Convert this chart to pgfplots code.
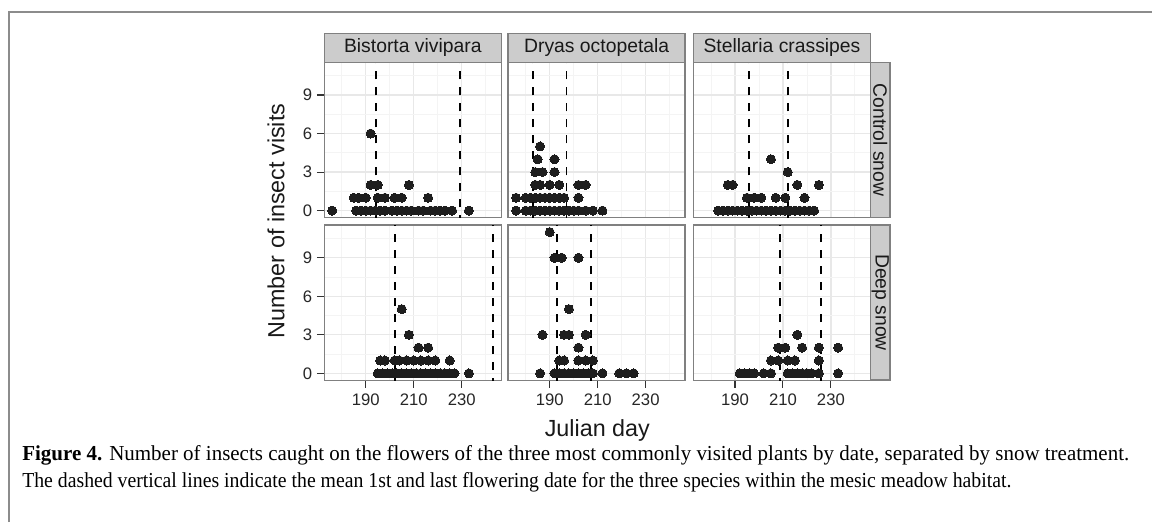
\documentclass[border=0pt]{standalone}
\usepackage{pgfplots}
\pgfplotsset{compat=1.18}
\usepackage{fontspec}
\usepackage{graphicx}
\setmainfont{Liberation Sans}
\newfontfamily\capfont{Liberation Serif}
\definecolor{gridmaj}{HTML}{E8E8E8}
\definecolor{gridmin}{HTML}{F4F4F4}
\definecolor{panelborder}{HTML}{808080}
\definecolor{stripfill}{HTML}{CCCCCC}
\definecolor{framegray}{HTML}{8C8C8C}
\definecolor{ptcol}{HTML}{1E1E1E}
\pgfplotsset{
 panel/.style={
   scale only axis, width=132.75pt, height=116.55pt,
   anchor=north west,
   xmin=172.7, xmax=246.5, ymin=-0.55, ymax=11.55,
   xtick={190,210,230}, minor xtick={180,200,220,240},
   ytick={0,3,6,9}, minor ytick={1.5,4.5,7.5,10.5},
   grid=both,
   major grid style={draw=gridmaj, line width=0.9pt},
   minor grid style={draw=gridmin, line width=0.6pt},
   axis line style={draw=panelborder, line width=1.1pt},
   tick align=outside, tick pos=left,
   major tick length=5.5pt, minor tick length=0pt,
   tick style={draw=black!80, line width=0.8pt},
   ticklabel style={font=\fontsize{12.5}{13.5}\selectfont, text=black!85},
   xticklabel style={yshift=-1pt},
   /pgf/number format/assume math mode=true,
   clip=true,
 },
 noxt/.style={xticklabels={}, x tick style={draw=none}},
 noyt/.style={yticklabels={}, y tick style={draw=none}},
 pts/.style={only marks, mark=*, mark size=3.4pt, mark options={fill=ptcol, draw=ptcol, line width=0pt}},
 dl/.style={black, line width=1.3pt, dash pattern=on 6.5pt off 5.5pt, forget plot},
}
\begin{document}
\begin{tikzpicture}
\useasboundingbox (0,0) rectangle (864pt,-391.5pt);
\draw[framegray, line width=2pt] (6.75pt,-391.5pt) -- (6.75pt,-9pt) -- (864pt,-9pt);

% Bistorta control
\begin{axis}[panel, noxt, at={(243.2pt,-46.7pt)}]
\addplot[dl] coordinates {(194.2,-1) (194.2,12)};
\addplot[dl] coordinates {(229.2,-1) (229.2,12)};
\addplot[pts] coordinates {
(176,0)(186,0)(188,0)(190,0)(192,0)(194,0)(196,0)(198,0)(201,0)(203,0)(205,0)(207,0)(209,0)(212,0)(214,0)(217,0)(219,0)(221,0)(223,0)(226,0)(233,0)
(185,1)(187,1)(190,1)(195,1)(198,1)(202,1)(205,1)(216,1)
(192,2)(195,2)(208,2)
(192,6)};
\end{axis}
% Dryas control
\begin{axis}[panel, noxt, noyt, at={(381.15pt,-46.7pt)}]
\addplot[dl] coordinates {(183,-1) (183,12)};
\addplot[dl] coordinates {(197,-1) (197,12)};
\addplot[pts] coordinates {
(176,0)(180,0)(182,0)(184,0)(186,0)(188,0)(190,0)(192,0)(194,0)(196,0)(198,0)(200,0)(202,0)(205,0)(208,0)(212,0)
(176,1)(180,1)(182,1)(184,1)(186,1)(188,1)(190,1)(192,1)(194,1)(196,1)(202,1)
(184,2)(186,2)(190,2)(194,2)(202,2)(205,2)
(184,3)(187,3)(192,3)
(185,4)(192,4)
(186,5)};
\end{axis}
% Stellaria control
\begin{axis}[panel, noxt, noyt, at={(520.1pt,-46.7pt)}]
\addplot[dl] coordinates {(195.9,-1) (195.9,12)};
\addplot[dl] coordinates {(212,-1) (212,12)};
\addplot[pts] coordinates {
(183,0)(185,0)(187,0)(189,0)(191,0)(193,0)(195,0)(197,0)(199,0)(201,0)(203,0)(205,0)(207,0)(209,0)(211,0)(213,0)(215,0)(217,0)(219,0)(221,0)(223,0)
(195,1)(198,1)(201,1)(207,1)(211,1)(219,1)
(187,2)(189,2)(216,2)(225,2)
(212,3)
(205,4)};
\end{axis}
% Bistorta deep
\begin{axis}[panel, at={(243.2pt,-168.75pt)}]
\addplot[dl] coordinates {(202.3,-1) (202.3,12)};
\addplot[dl] coordinates {(243.1,-1) (243.1,12)};
\addplot[pts] coordinates {
(195,0)(197,0)(199,0)(201,0)(203,0)(205,0)(207,0)(209,0)(211,0)(213,0)(215,0)(217,0)(219,0)(221,0)(223,0)(225,0)(227,0)(233,0)
(196,1)(198,1)(202,1)(204,1)(207,1)(210,1)(213,1)(216,1)(219,1)(225,1)
(212,2)(216,2)
(208,3)
(205,5)};
\end{axis}
% Dryas deep
\begin{axis}[panel, noyt, at={(381.15pt,-168.75pt)}]
\addplot[dl] coordinates {(192.9,-1) (192.9,12)};
\addplot[dl] coordinates {(207.1,-1) (207.1,12)};
\addplot[pts] coordinates {
(186,0)(192,0)(194,0)(196,0)(198,0)(200,0)(202,0)(204,0)(206,0)(208,0)(212,0)(219,0)(222,0)(225,0)
(194,1)(196,1)(202,1)(205,1)(208,1)
(202,2)
(187,3)(196,3)(198,3)(205,3)
(198,5)
(192,9)(195,9)(202,9)
(190,11)};
\end{axis}
% Stellaria deep
\begin{axis}[panel, noyt, at={(520.1pt,-168.75pt)}]
\addplot[dl] coordinates {(208.9,-1) (208.9,12)};
\addplot[dl] coordinates {(226,-1) (226,12)};
\addplot[pts] coordinates {
(192,0)(194,0)(196,0)(198,0)(202,0)(205,0)(212,0)(214,0)(216,0)(218,0)(220,0)(222,0)(225,0)(233,0)
(205,1)(208,1)(212,1)(215,1)(225,1)
(208,2)(211,2)(218,2)(225,2)(233,2)
(216,3)};
\end{axis}

% strips
\begin{scope}[every node/.style={font=\fontsize{14.5}{16}\selectfont, text=black!90}]
\draw[fill=stripfill, draw=panelborder, line width=1.1pt] (243.2pt,-25pt) rectangle (375.95pt,-46.7pt);
\node at (309.6pt,-35.85pt) {Bistorta vivipara};
\draw[fill=stripfill, draw=panelborder, line width=1.1pt] (381.15pt,-25pt) rectangle (513.9pt,-46.7pt);
\node at (447.5pt,-35.85pt) {Dryas octopetala};
\draw[fill=stripfill, draw=panelborder, line width=1.1pt] (520.1pt,-25pt) rectangle (652.85pt,-46.7pt);
\node at (586.5pt,-35.85pt) {Stellaria crassipes};
\draw[fill=stripfill, draw=panelborder, line width=1.1pt] (652.85pt,-46.7pt) rectangle (667.5pt,-163.25pt);
\node[rotate=-90] at (660.2pt,-104.97pt) {Control snow};
\draw[fill=stripfill, draw=panelborder, line width=1.1pt] (652.85pt,-168.75pt) rectangle (667.5pt,-285pt);
\node[rotate=-90] at (660.2pt,-226.9pt) {Deep snow};
\end{scope}
\node[font=\fontsize{17.5}{19}\selectfont, text=black!90] at (448pt,-323pt) {Julian day};
\node[font=\fontsize{17.5}{19}\selectfont, text=black!90, rotate=90] at (207pt,-165.75pt) {Number of insect visits};

% caption
\node[anchor=base west, inner sep=0pt] at (16.5pt,-345.5pt) {\resizebox{830.25pt}{\height}{\capfont\fontsize{16}{19}\selectfont\textbf{Figure 4.} Number of insects caught on the flowers of the three most commonly visited plants by date, separated by snow treatment.}};
\node[anchor=base west, inner sep=0pt] at (16.5pt,-365.75pt) {\resizebox{741.75pt}{\height}{\capfont\fontsize{16}{19}\selectfont The dashed vertical lines indicate the mean 1st and last flowering date for the three species within the mesic meadow habitat.}};
\end{tikzpicture}
\end{document}
